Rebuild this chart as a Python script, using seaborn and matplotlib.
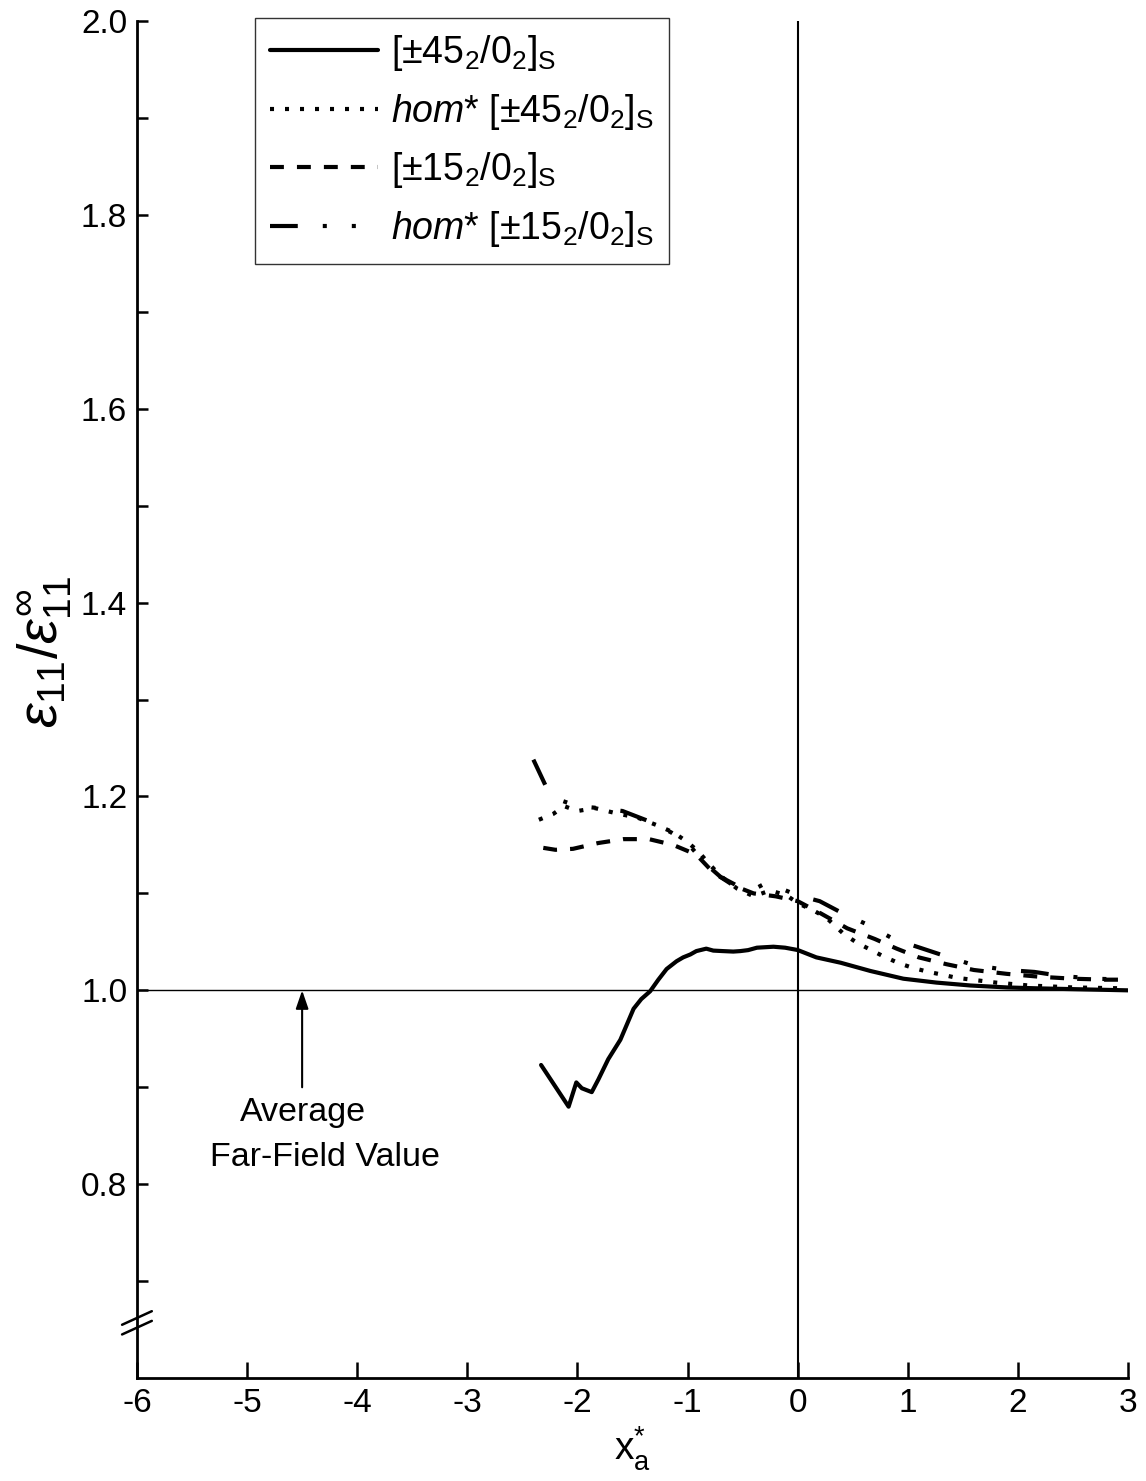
import matplotlib
matplotlib.use("Agg")
import matplotlib.pyplot as plt
import seaborn as sns
import numpy as np

# ---- data ----
x_45 = [-2.33, -2.08, -2.01, -1.96, -1.87, -1.81, -1.72, -1.61, -1.49, -1.42, -1.34,
        -1.265, -1.19, -1.10, -1.04, -0.975, -0.92, -0.83, -0.766, -0.68, -0.585, -0.52,
        -0.45, -0.37, -0.22, -0.114, 0.0, 0.17, 0.39, 0.66, 0.96, 1.26, 1.57, 1.9, 2.2,
        2.6, 3.0]
y_45 = [0.923, 0.880, 0.905, 0.899, 0.895, 0.908, 0.929, 0.949, 0.981, 0.991, 0.999,
        1.011, 1.022, 1.030, 1.034, 1.037, 1.0405, 1.043, 1.041, 1.0405, 1.040, 1.0405,
        1.0415, 1.044, 1.045, 1.044, 1.0416, 1.034, 1.0285, 1.020, 1.012, 1.008, 1.005,
        1.003, 1.002, 1.001, 1.000]

x_hom45 = [-2.35, -2.22, -2.12, -2.0, -1.84, -1.66, -1.45, -1.27, -1.13, -1.0, -0.9,
           -0.8, -0.7, -0.55, -0.4, -0.25, -0.1, 0.0, 0.15, 0.26, 0.42, 0.54, 0.66,
           0.78, 0.92, 1.05, 1.19, 1.32, 1.44, 1.58, 1.8, 2.1, 2.5, 3.0]
y_hom45 = [1.176, 1.182, 1.190, 1.185, 1.188, 1.183, 1.178, 1.170, 1.163, 1.153, 1.143,
           1.130, 1.118, 1.105, 1.097, 1.103, 1.098, 1.090, 1.082, 1.075, 1.058, 1.049, 1.042,
           1.035, 1.028, 1.023, 1.019, 1.016, 1.013, 1.011, 1.008, 1.005, 1.003, 1.002]

x_15 = [-2.31, -2.2, -2.04, -1.81, -1.58, -1.35, -1.13, -0.92, -0.77, -0.58, -0.4,
        -0.2, 0.0, 0.2, 0.45, 0.7, 0.9, 1.1, 1.35, 1.6, 1.9, 2.2, 2.5, 2.8, 3.0]
y_15 = [1.147, 1.145, 1.146, 1.152, 1.156, 1.156, 1.150, 1.140, 1.122, 1.108, 1.100,
        1.097, 1.092, 1.080, 1.064, 1.053, 1.043, 1.034, 1.027, 1.021, 1.017, 1.014,
        1.012, 1.011, 1.011]

x_hom15 = [-2.40, -2.28, -2.15, -2.0, -1.8, -1.59, -1.34, -1.15, -1.0, -0.85, -0.7,
           -0.55, -0.4, -0.3, -0.15, 0.0, 0.2, 0.4, 0.63, 0.87, 1.11, 1.35, 1.6, 1.9,
           2.15, 2.38, 2.7, 3.0]
y_hom15 = [1.238, 1.209, 1.196, 1.190, 1.188, 1.185, 1.174, 1.163, 1.152, 1.132, 1.117,
           1.108, 1.104, 1.110, 1.105, 1.098, 1.092, 1.080, 1.068, 1.053, 1.044, 1.035,
           1.026, 1.021, 1.019, 1.015, 1.012, 1.011]

labels = [r"[$\pm$45$_2$/0$_2$]$_\mathrm{S}$",
          r"$\mathit{hom{*}}$ [$\pm$45$_2$/0$_2$]$_\mathrm{S}$",
          r"[$\pm$15$_2$/0$_2$]$_\mathrm{S}$",
          r"$\mathit{hom{*}}$ [$\pm$15$_2$/0$_2$]$_\mathrm{S}$"]

x_ticks = [-6, -5, -4, -3, -2, -1, 0, 1, 2, 3]
y_major = [0.8, 1.0, 1.2, 1.4, 1.6, 1.8, 2.0]
y_minor = [0.7, 0.9, 1.1, 1.3, 1.5, 1.7, 1.9]

# ---- style ----
sns.set_style("ticks")
plt.rcParams["font.family"] = ["Liberation Sans", "DejaVu Sans"]
plt.rcParams["mathtext.fontset"] = "custom"
plt.rcParams["mathtext.rm"] = "Liberation Sans"
plt.rcParams["mathtext.it"] = "Liberation Sans:italic"
plt.rcParams["mathtext.bf"] = "Liberation Sans:bold"
plt.rcParams["mathtext.sf"] = "Liberation Sans"
plt.rcParams["axes.unicode_minus"] = False
plt.rcParams["lines.scale_dashes"] = False
for key in ("text.color", "axes.labelcolor", "xtick.color", "ytick.color",
            "axes.edgecolor"):
    plt.rcParams[key] = "black"

fig = plt.figure(figsize=(11.46, 14.81), dpi=100)
ax = fig.add_axes([0.1195, 0.0695, 0.8648, 0.9163])

lw = 3.0
styles = [
    "-",
    (0, (2.9, 7.9)),
    (0, (10.0, 9.4)),
    (0, (20.0, 18.0, 2.9, 18.0, 2.9, 18.0)),
]
series = [(x_45, y_45), (x_hom45, y_hom45), (x_15, y_15), (x_hom15, y_hom15)]

handles = []
for (xs, ys), ls, lab in zip(series, styles, labels):
    sns.lineplot(x=xs, y=ys, ax=ax, color="black", linewidth=lw,
                 linestyle=ls, estimator=None, sort=False, label=lab,
                 dash_capstyle="butt", solid_joinstyle="round")
    handles.append(ax.lines[-1])

ax.axvline(0, color="black", lw=1.5, zorder=1)
ax.axhline(1.0, color="black", lw=1.0, zorder=1)

ax.set_xlim(-6, 3)
ax.set_ylim(0.6, 2.0)
ax.set_xticks(x_ticks)
ax.set_xticklabels([str(t) for t in x_ticks])
ax.set_yticks(y_major)
ax.set_yticklabels([f"{t:.1f}" for t in y_major])
ax.set_yticks(y_minor, minor=True)

ax.tick_params(axis="x", direction="in", length=11.5, width=1.8, labelsize=24, pad=7)
ax.tick_params(axis="y", which="both", direction="in", length=8, width=1.8,
               labelsize=24, pad=7)
ax.tick_params(axis="x", which="minor", bottom=False)

for side in ("top", "right"):
    ax.spines[side].set_visible(False)
for side in ("left", "bottom"):
    ax.spines[side].set_linewidth(2.0)

# axis break marks on the left spine
for yb in (0.652, 0.662):
    yf = (yb - 0.6) / 1.4
    ax.plot([-0.015, 0.015], [yf - 0.005, yf + 0.005], transform=ax.transAxes,
            color="black", lw=1.8, clip_on=False)

ax.set_xlabel(r"x$_\mathrm{a}^{*}$", fontsize=28, labelpad=4)
ax.set_ylabel(r"$\varepsilon_{11}/\varepsilon_{11}^{\infty}$", fontsize=40,
              va="center")
ax.yaxis.set_label_coords(-0.093, 0.535)

ax.annotate("", xy=(-4.5, 1.0), xytext=(-4.5, 0.9),
            arrowprops=dict(arrowstyle="-|>,head_length=1.1,head_width=0.38",
                            color="black", lw=1.5, shrinkA=0, shrinkB=0))
ax.text(-5.065, 0.874, "Average", fontsize=24.5, ha="left", va="center")
ax.text(-5.34, 0.828, "Far-Field Value", fontsize=24.5, ha="left", va="center")

leg = ax.legend(handles=handles, labels=labels, loc="upper left",
                bbox_to_anchor=(255 / 1146, 1 - 18 / 1481), bbox_transform=fig.transFigure,
                fontsize=27, frameon=True, fancybox=False, edgecolor="black",
                handlelength=2.88, handletextpad=0.35, labelspacing=0.5,
                borderpad=0.4, borderaxespad=0)
leg.get_frame().set_linewidth(1.0)

fig.savefig("out.png", dpi=100, facecolor="white")
